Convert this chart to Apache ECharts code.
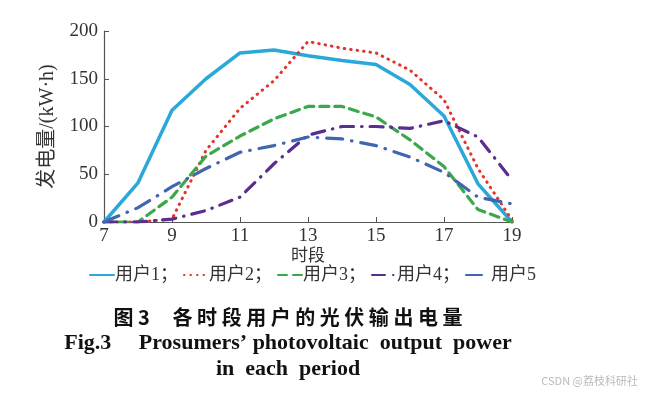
<!DOCTYPE html>
<html><head><meta charset="utf-8">
<script src="https://cdn.jsdelivr.net/npm/echarts@6/dist/echarts.min.js"></script>
<style>html,body{margin:0;padding:0;background:#fff}#c{width:650px;height:394px}</style>
</head><body><div id="c"></div>
<script>
const hours = ['7','8','9','10','11','12','13','14','15','16','17','18','19'];
const user1 = [0, 41, 117, 150, 177, 180, 174, 169, 165, 144, 111, 40, 0];
const user2 = [0, 0, 3, 75, 119, 148, 189, 182, 177, 159, 128, 56, 2];
const user3 = [0, 0, 26, 69, 90, 108, 121, 121, 110, 86, 58, 13, 0];
const user4 = [0, 0, 3, 12, 26, 61, 91, 100, 100, 98, 106, 89, 44];
const user5 = [0, 15, 37, 56, 73, 80, 89, 87, 80, 68, 52, 26, 19];
const yTicks = [0, 50, 100, 150, 200];
const names = ['用户1','用户2','用户3','用户4','用户5'];

const serif = '"Liberation Serif","Noto Sans CJK SC",serif';
const chart = echarts.init(document.getElementById('c'));
const mk = (name, data, color, dash, w) => ({
  name, type: 'line', data, symbol: 'none', smooth: false,
  lineStyle: {color, width: w, type: dash, cap: 'round'},
  itemStyle: {color}
});
chart.setOption({
  animation: false,
  grid: {left: 104, right: 138, top: 31, bottom: 172},
  legend: {
    left: 84, top: 261, itemWidth: 24, itemHeight: 10, itemGap: 5,
    data: names,
    itemStyle: {opacity: 0},
    formatter: n => n === '用户5' ? n : n + '；',
    textStyle: {fontFamily: serif, fontSize: 18, color: '#333', padding: [0,0,0,-4]}
  },
  xAxis: {
    type: 'category', data: hours, boundaryGap: false,
    name: '时段', nameLocation: 'middle', nameGap: 26,
    nameTextStyle: {fontFamily: serif, fontSize: 17, color: '#333'},
    axisLine: {lineStyle: {color: '#555', width: 1.2}},
    axisTick: {inside: true, interval: 1, length: 5, lineStyle: {color: '#555'}},
    axisLabel: {interval: 1, fontFamily: serif, fontSize: 19, color: '#333', margin: 5},
    splitLine: {show: false}
  },
  yAxis: {
    type: 'value', min: yTicks[0], max: yTicks[yTicks.length-1], interval: 50,
    name: '发电量/(kW·h)', nameLocation: 'middle', nameGap: 46, nameRotate: 90,
    nameTextStyle: {fontFamily: serif, fontSize: 20, color: '#333'},
    axisLine: {show: true, lineStyle: {color: '#555', width: 1.2}},
    axisTick: {show: true, inside: true, length: 5, lineStyle: {color: '#555'}},
    axisLabel: {fontFamily: serif, fontSize: 19, color: '#333', margin: 6},
    splitLine: {show: false}
  },
  series: [
    mk('用户1', user1, '#2aa8d8', 'solid', 3.5),
    mk('用户2', user2, '#e5332e', [0.5, 6], 3),
    mk('用户3', user3, '#3aa84b', [9, 6], 3.2),
    mk('用户4', user4, '#5a2e8e', [13, 8, 0.5, 8], 3.2),
    mk('用户5', user5, '#4166b1', [16, 9, 0.5, 9], 3.2)
  ],
  graphic: [
    {type: 'text', x: 288, y: 317, style: {text: '图 3     各 时 段 用 户 的 光 伏 输 出 电 量', font: 'bold 20px "Noto Sans CJK SC"', fill: '#111', align: 'center', verticalAlign: 'middle'}},
    {type: 'text', x: 288, y: 343, style: {text: 'Fig.3     Prosumers\u2019 photovoltaic  output  power', font: 'bold 22px "Liberation Serif"', fill: '#111', align: 'center', verticalAlign: 'middle'}},
    {type: 'text', x: 288, y: 369, style: {text: 'in  each  period', font: 'bold 22px "Liberation Serif"', fill: '#111', align: 'center', verticalAlign: 'middle'}},
    {type: 'text', right: 12, top: 375, style: {text: 'CSDN @荔枝科研社', font: '11px "Noto Sans CJK SC"', fill: '#bbb'}}
  ]
});
</script></body></html>
